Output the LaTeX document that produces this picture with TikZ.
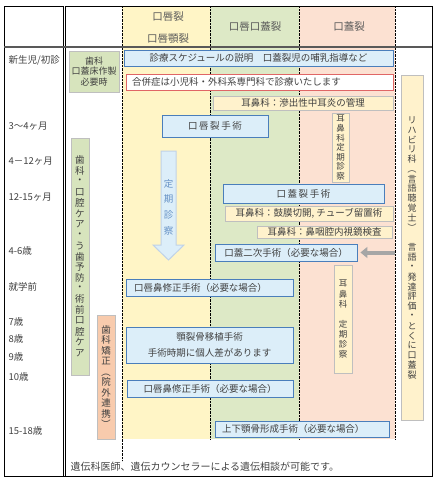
\documentclass[tikz,border=0pt]{standalone}
\usepackage{fontspec}
\setmainfont{Noto Sans CJK JP}
\usepackage{tikz}
\usetikzlibrary{arrows.meta,backgrounds}
\definecolor{moji}{HTML}{404040}
\definecolor{midashi}{HTML}{595959}
\definecolor{kiiro}{HTML}{FFF5C6}
\definecolor{midori}{HTML}{DDE9C6}
\definecolor{momo}{HTML}{FCE1D2}
\definecolor{aofill}{HTML}{DCEEF9}
\definecolor{aoline}{HTML}{4A7EBB}
\definecolor{kurimu}{HTML}{FFF2CC}
\definecolor{haiiro}{HTML}{BFBFBF}
\definecolor{midoribox}{HTML}{D7E4BD}
\definecolor{momobox}{HTML}{F8CBAD}
\definecolor{aka}{HTML}{E06666}
\def\frameRect{(4,6) rectangle (432,476)}
\def\yellowcol{(122,6) rectangle (210,439)}
\def\greencol{(210,6) rectangle (299,439)}
\def\pinkcol{(299,6) rectangle (395,439)}
\def\teikiArrow{(161,151) -- (176,151) -- (176,245) -- (184,245) -- (168.5,260) -- (153,245) -- (161,245) -- cycle}
% vertical text, one character per cell
\newcommand\tate[2][10pt]{\vbox{\offinterlineskip\def\tatecell{#1}\tateloop#2\relax}}
\def\tateloop#1{\ifx\relax#1\else\hbox to 1.2em{\hss\vbox to \tatecell{\vss\hbox{#1}\vss}\hss}\expandafter\tateloop\fi}
\def\kakkoL{\rotatebox[origin=c]{-90}{（}}
\def\kakkoR{\rotatebox[origin=c]{-90}{）}}
\tikzset{
  bluebox/.style={draw=aoline, fill=aofill, line width=0.9pt, inner sep=0pt},
  redbox/.style={draw=aka, fill=white, line width=0.9pt, inner sep=0pt},
  creambox/.style={draw=haiiro, fill=kurimu, line width=0.9pt, inner sep=0pt},
  greenbox/.style={draw=haiiro, fill=midoribox, line width=0.9pt, inner sep=0pt},
  pinkbox/.style={draw=haiiro, fill=momobox, line width=0.9pt, inner sep=0pt},
  midasi/.style={text=midashi, font=\fontsize{10.5}{12}\selectfont},
  age/.style={anchor=west, font=\fontsize{9.5}{11}\selectfont},
  haiarrow/.style={draw=gray!70, line width=4pt, -{Triangle[length=7pt,width=11pt]}}
}

\begin{document}
\begin{tikzpicture}[x=1pt,y=-1pt, every node/.style={text=moji, font=\fontsize{9.5}{12}\selectfont}]
\useasboundingbox (0,0) rectangle (438,480);
\fill[kiiro] \yellowcol;
\fill[midori] \greencol;
\fill[momo] \pinkcol;
\draw[densely dotted] (122,6) -- (122,461);
\draw[densely dotted] (210,6) -- (210,439);
\draw[densely dotted] (299,6) -- (299,439);
\draw[densely dotted] (395,6) -- (395,439);
\draw[line width=0.8pt] \frameRect;
\draw[double, double distance=1.6pt, line width=0.7pt] (64.5,6) -- (64.5,476);
\draw[line width=2.4pt, black!65] (4,47) -- (432,47);

\node[midasi] (hA) at (168,17) {口唇裂};
\node[midasi] (hB) at (168,39) {口唇顎裂};
\node[midasi] (hC) at (255,27) {口唇口蓋裂};
\node[midasi] (hD) at (349,27) {口蓋裂};

\node[age] (ageA) at (5,60) {新生児/初診};
\node[age] (ageB) at (5,126) {3〜4ヶ月};
\node[age] (ageC) at (5,161) {4－12ヶ月};
\node[age] (ageD) at (5,197) {12-15ヶ月};
\node[age] (ageE) at (5,251) {4-6歳};
\node[age] (ageF) at (5,287) {就学前};
\node[age] (ageG) at (5,322) {7歳};
\node[age] (ageH) at (5,339) {8歳};
\node[age] (ageI) at (5,357) {9歳};
\node[age] (ageJ) at (5,377) {10歳};
\node[age] (ageK) at (5,431) {15-18歳};

\node[greenbox, minimum width=50, minimum height=41, align=center, font=\fontsize{9}{10.5}\selectfont] (shikaA) at (94,71.5) {歯科\\口蓋床作製\\必要時};
\node[greenbox, minimum width=18, minimum height=237] (shikaB) at (80,256.5) {\tate[10.7pt]{歯科・口腔ケア・う歯予防・術前口腔ケア}};
\node[pinkbox, minimum width=18, minimum height=124] (kyosei) at (106,377) {\tate[10.5pt]{歯科矯正\kakkoL 院外連携\kakkoR}};

\node[bluebox, minimum width=269, minimum height=16] (setsumei) at (258.5,58) {診療スケジュールの説明　口蓋裂児の哺乳指導など};
\node[redbox, minimum height=16, text width=255, inner xsep=6, align=left] (gappei) at (259.5,82) {合併症は小児科・外科系専門科で診療いたします};
\node[creambox, minimum width=180, minimum height=14] (chuji) at (303,103) {耳鼻科：滲出性中耳炎の管理};
\node[bluebox, minimum width=106, minimum height=22] (shinretsu) at (215,126) {口\,唇\,裂\,手\,術};

% start of teiki arrow
\draw[fill=aofill, draw=aoline!35, line width=1pt] \teikiArrow;
\node[text=aoline!85] (teiki) at (168.5,207) {\tate[15.7pt]{定期診察}};

\node[creambox, minimum width=17, minimum height=69, font=\fontsize{8.5}{9}\selectfont] (jibiA) at (340.5,147.5) {\tate[9.5pt]{耳鼻科定期診察}};
\node[bluebox, minimum width=161, minimum height=19] (kogai) at (303.5,193.5) {口\,蓋\,裂\,手\,術};
\node[creambox, minimum width=168, minimum height=15] (tube) at (309,213.5) {耳鼻科：鼓膜切開, チューブ留置術};
\node[creambox, minimum width=135, minimum height=12] (bii) at (324.5,232) {耳鼻科：鼻咽腔内視鏡検査};
\node[bluebox, minimum width=142, minimum height=17] (niji) at (286,252.5) {口蓋二次手術（必要な場合）};
\node[bluebox, minimum height=17, text width=151, inner xsep=8, align=left] (shuseiA) at (209.5,287.5) {口唇鼻修正手術（必要な場合）};
\node[bluebox, minimum width=167, minimum height=36, align=center, font=\fontsize{9.5}{16}\selectfont] (kotsu) at (209.5,345) {顎裂骨移植手術\\手術時期に個人差があります};
\node[bluebox, minimum width=166, minimum height=17] (shuseiB) at (210,388.5) {口唇鼻修正手術（必要な場合）};
\node[bluebox, minimum height=16, text width=160, inner xsep=7, align=left] (jougaku) at (302,429) {上下顎骨形成手術（必要な場合）};
\node[creambox, minimum width=18, minimum height=108, font=\fontsize{8.5}{9}\selectfont] (jibiB) at (343,319) {\tate[10pt]{耳鼻科　定期診察}};

\node[creambox, minimum width=22, minimum height=345, font=\fontsize{9}{10}\selectfont] (rehab) at (412,247.5) {\tate[9.8pt]{リハビリ科\kakkoL 言語聴覚士\kakkoR 　言語・発達評価・とくに口蓋裂}};
\draw[haiarrow, shorten <=6pt, shorten >=3pt] (rehab.west |- niji.east) -- (niji.east);

\node[anchor=west, font=\fontsize{10}{12}\selectfont] (iden) at (67,467) {遺伝科医師、遺伝カウンセラーによる遺伝相談が可能です。};
\end{tikzpicture}
\end{document}
